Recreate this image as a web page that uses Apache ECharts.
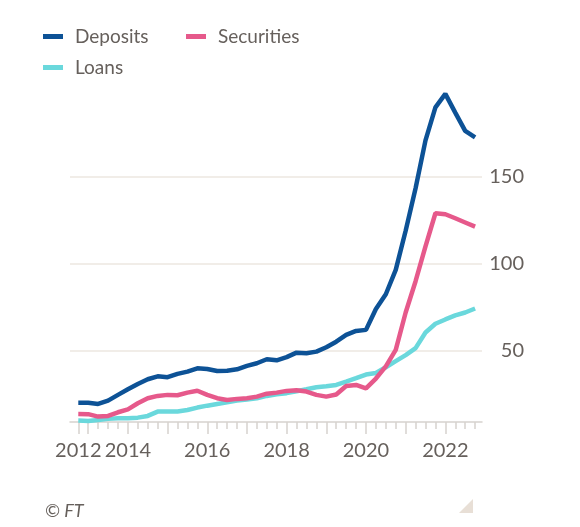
<!DOCTYPE html>
<html>
<head>
<meta charset="utf-8">
<script src="https://cdn.jsdelivr.net/npm/echarts@6/dist/echarts.min.js"></script>
<style>
  html, body { margin: 0; padding: 0; background: #ffffff; }
  #chart { width: 580px; height: 527px; }
</style>
</head>
<body>
<div id="chart"></div>
<script>
// Quarters (categories)
var quarters = [
  '2012-Q4',
  '2013-Q1','2013-Q2','2013-Q3','2013-Q4',
  '2014-Q1','2014-Q2','2014-Q3','2014-Q4',
  '2015-Q1','2015-Q2','2015-Q3','2015-Q4',
  '2016-Q1','2016-Q2','2016-Q3','2016-Q4',
  '2017-Q1','2017-Q2','2017-Q3','2017-Q4',
  '2018-Q1','2018-Q2','2018-Q3','2018-Q4',
  '2019-Q1','2019-Q2','2019-Q3','2019-Q4',
  '2020-Q1','2020-Q2','2020-Q3','2020-Q4',
  '2021-Q1','2021-Q2','2021-Q3','2021-Q4',
  '2022-Q1','2022-Q2','2022-Q3','2022-Q4'
];

var deposits = [
  20.1, 20.1, 19.4, 21.3, 24.6, 27.8, 30.9, 33.6, 35.3, 34.8,
  36.7, 38.0, 39.9, 39.5, 38.3, 38.5, 39.3, 41.3, 42.8, 45.1,
  44.5, 46.3, 48.9, 48.6, 49.5, 52.0, 55.2, 59.1, 61.4, 62.0,
  74.0, 82.5, 96.5, 119.0, 143.5, 171.0, 190.0, 197.8, 187.0, 176.5,
  172.8
];

var securities = [
  13.6, 13.5, 12.1, 12.5, 14.6, 16.3, 19.8, 22.7, 24.0, 24.6,
  24.4, 25.9, 27.0, 24.6, 22.7, 21.7, 22.3, 22.7, 23.6, 25.3,
  25.9, 26.9, 27.3, 26.5, 24.6, 23.6, 24.8, 29.7, 30.3, 28.4,
  34.0, 41.0, 50.5, 72.0, 90.0, 110.0, 129.1, 128.5, 126.2, 123.8,
  121.4
];

var loans = [
  9.8, 9.6, 10.2, 10.8, 11.2, 11.2, 11.5, 12.5, 15.0, 15.0,
  15.0, 15.9, 17.3, 18.4, 19.4, 20.3, 21.3, 22.0, 22.7, 24.0,
  25.0, 25.6, 26.7, 27.8, 29.0, 29.6, 30.3, 32.2, 34.2, 36.3,
  37.2, 40.5, 44.0, 47.5, 51.5, 60.5, 65.5, 68.0, 70.3, 72.0,
  74.3
];

var yTickValues = [50, 100, 150];
var xLabelYears = ['2012', '2014', '2016', '2018', '2020', '2022'];

// helpers
function qToX(q) {
  var p = q.split('-Q');
  return Number(p[0]) + (Number(p[1]) - 1) * 0.25;
}
var xs = quarters.map(qToX);
function pairs(vals) { return vals.map(function (v, i) { return [xs[i], v]; }); }

var firstX = xs[0];
var lastX = xs[xs.length - 1];
// label positions: first label sits at the start of the data
var xLabelValues = xLabelYears.map(function (y, i) { return i === 0 ? firstX : Number(y); });
// yearly ticks (plus the start of data)
var yearTicks = [firstX];
for (var i = 0; i < xs.length; i++) { if (xs[i] % 1 === 0) yearTicks.push(xs[i]); }

var textColor = '#66605c';
var fontFam = 'Lato, "Open Sans", sans-serif';

var chart = echarts.init(document.getElementById('chart'), null, { renderer: 'canvas' });

var legendCommon = {
  orient: 'horizontal',
  icon: 'rect',
  itemWidth: 20,
  itemHeight: 5,
  padding: 0,
  selectedMode: false,
  textStyle: { color: textColor, fontSize: 19, fontFamily: fontFam, padding: [0, 0, 0, 7] }
};

chart.setOption({
  backgroundColor: '#ffffff',
  animation: false,
  legend: [
    Object.assign({}, legendCommon, { data: ['Deposits'], left: 43, top: 27 }),
    Object.assign({}, legendCommon, { data: ['Securities'], left: 186, top: 27 }),
    Object.assign({}, legendCommon, { data: ['Loans'], left: 43, top: 58 })
  ],
  grid: { left: 70, right: 98, top: 90, bottom: 105, containLabel: false },
  xAxis: [
    {
      type: 'value',
      min: 2012.541,
      max: 2022.924,
      axisLine: { show: true, lineStyle: { color: '#d6d2ce', width: 1.5 } },
      axisTick: { show: true, customValues: xs, length: 7, lineStyle: { color: '#d6d2ce', width: 1.5 } },
      axisLabel: { show: false },
      splitLine: { show: false }
    },
    {
      type: 'value',
      gridIndex: 0,
      position: 'bottom',
      min: 2012.541,
      max: 2022.924,
      axisLine: { show: false },
      axisTick: { show: true, customValues: yearTicks, length: 12, lineStyle: { color: '#d6d2ce', width: 1.5 } },
      axisLabel: {
        show: true,
        customValues: xLabelValues,
        margin: 19,
        color: textColor,
        fontSize: 20,
        fontFamily: fontFam,
        formatter: function (v) { return String(Math.floor(v + 1e-6)); }
      },
      splitLine: { show: false }
    }
  ],
  yAxis: {
    type: 'value',
    position: 'right',
    min: 9,
    max: 200,
    axisLine: { show: false },
    axisTick: { show: false, customValues: yTickValues },
    axisLabel: {
      show: true,
      customValues: yTickValues,
      align: 'right',
      margin: 42,
      color: textColor,
      fontSize: 20,
      fontFamily: fontFam
    },
    splitLine: { show: true, lineStyle: { color: '#ece7e1', width: 1.5 } }
  },
  series: [
    {
      name: 'Loans', type: 'line', xAxisIndex: 0, data: pairs(loans),
      showSymbol: false, symbol: 'none', smooth: false,
      lineStyle: { color: '#6ad8dc', width: 4.5 }, itemStyle: { color: '#6ad8dc' }, z: 2
    },
    {
      name: 'Securities', type: 'line', xAxisIndex: 0, data: pairs(securities),
      showSymbol: false, symbol: 'none', smooth: false,
      lineStyle: { color: '#e6598b', width: 4.5 }, itemStyle: { color: '#e6598b' }, z: 3
    },
    {
      name: 'Deposits', type: 'line', xAxisIndex: 0, data: pairs(deposits),
      showSymbol: false, symbol: 'none', smooth: false,
      lineStyle: { color: '#0d5296', width: 4.5 }, itemStyle: { color: '#0d5296' }, z: 4
    }
  ],
  graphic: [
    {
      type: 'text', left: 45, top: 502,
      style: { text: '\u00A9 FT', fill: '#66605c', fontSize: 18, fontStyle: 'italic', fontFamily: fontFam }
    },
    {
      type: 'polygon',
      shape: { points: [[473, 499], [473, 513], [459, 513]] },
      style: { fill: '#e8dfd6' }
    }
  ]
});
</script>
</body>
</html>
